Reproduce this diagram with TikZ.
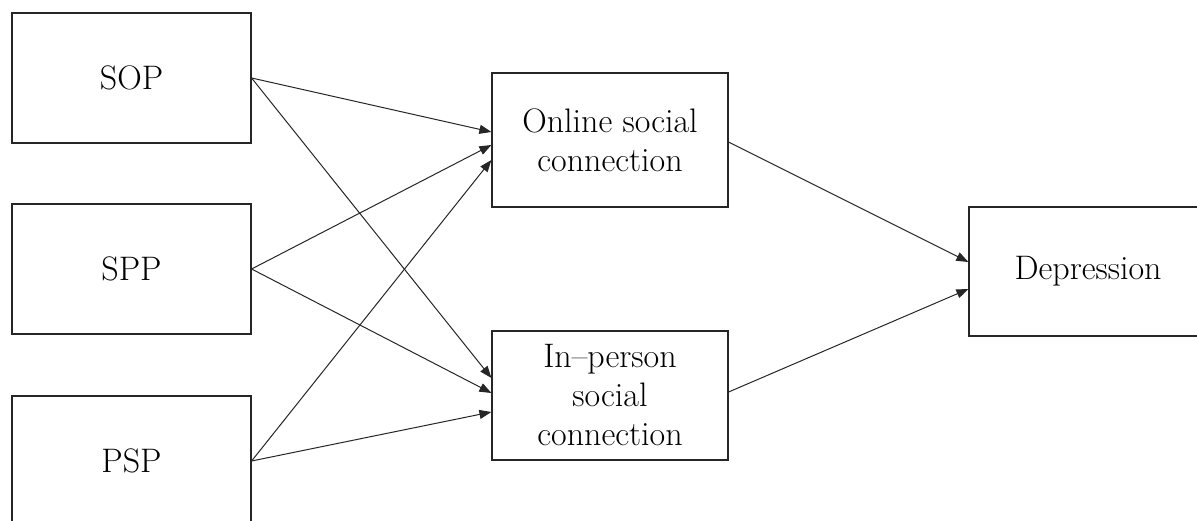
\documentclass[tikz,border=0pt]{standalone}
\usetikzlibrary{calc,arrows.meta}
\begin{document}
\begin{tikzpicture}[x=1pt,y=-1pt,
  box/.style={draw=black!85,line width=1.2pt,minimum width=239pt,minimum height=130pt,
    inner sep=0pt,align=center,font=\fontsize{34}{39}\selectfont},
  link/.style={draw=black!85,line width=1pt,-{Triangle[length=12pt,width=9pt]}}]
\useasboundingbox (0,0) rectangle (1197,521);
\clip (0,0) rectangle (1197,521);
% predictors
\node[box] (sop) at (131.5,78) {SOP};
\node[box] (spp) at (131.5,269) {SPP};
\node[box] (psp) at (131.5,461) {PSP};
% mediators
\node[box,minimum width=236pt,minimum height=134pt] (onl) at (610,140) {Online social\\connection};
\node[box,minimum width=236pt,minimum height=129pt] (inp) at (610,395.5) {In--person\\social\\connection};
% outcome
\node[box,minimum width=238pt,minimum height=129pt] (dep) at (1088,271.5) {Depression};
% paths to the mediators
\draw[link] (sop.east) -- ($(onl.west)+(0,-8)$);
\draw[link] (sop.east) -- ($(inp.west)+(0,-17.5)$);
\draw[link] (spp.east) -- ($(onl.west)+(0,5)$);
\draw[link] (spp.east) -- ($(inp.west)+(0,-2.5)$);
\draw[link] (psp.east) -- ($(onl.west)+(0,20)$);
\draw[link] (psp.east) -- ($(inp.west)+(0,16.5)$);
% paths to the outcome
\draw[link] ($(onl.east)+(0,2)$) -- ($(dep.west)+(0,-9.5)$);
\draw[link] ($(inp.east)+(0,-3.5)$) -- ($(dep.west)+(0,17.5)$);
\end{tikzpicture}
\end{document}
